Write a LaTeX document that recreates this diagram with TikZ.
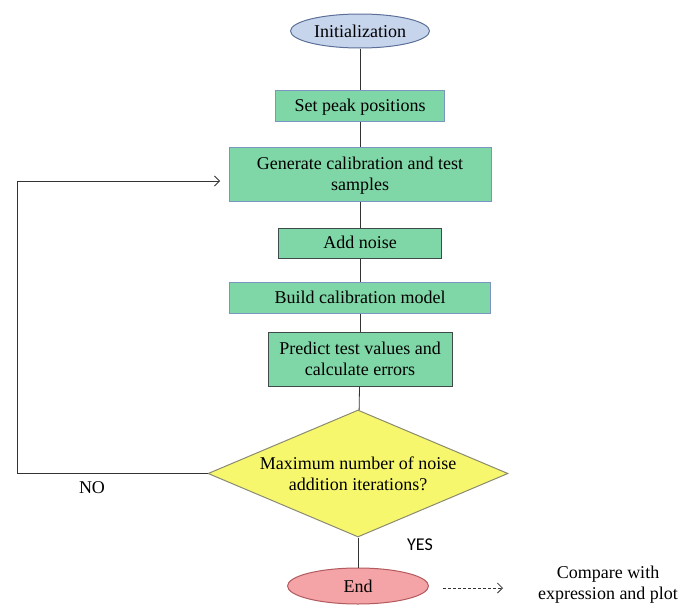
\documentclass[tikz,border=0pt]{standalone}
\usepackage{fontspec}
\setmainfont{Liberation Serif}
\newfontfamily\yesfont{Carlito}
\usetikzlibrary{shapes.geometric,arrows.meta}
\definecolor{boxgreen}{HTML}{7FD6A6}
\definecolor{blueedge}{HTML}{7A95C2}
\definecolor{darkedge}{HTML}{3F4A4A}
\definecolor{initfill}{HTML}{C7D5EC}
\definecolor{initedge}{HTML}{5C6F98}
\definecolor{endfill}{HTML}{F4A3A6}
\definecolor{endedge}{HTML}{B25A5E}
\definecolor{diafill}{HTML}{F7F76E}
\definecolor{diaedge}{HTML}{8A8A70}
\definecolor{linecol}{HTML}{333333}
\tikzset{
  every node/.style={font=\fontsize{18}{21}\selectfont, inner sep=0pt},
  procbox/.style={rectangle, fill=boxgreen, draw=blueedge, line width=1pt, align=center, text depth=1pt},
  procboxdark/.style={procbox, draw=darkedge},
  terminal/.style={ellipse, line width=1pt, inner sep=0pt},
  decision/.style={diamond, aspect=2.36, fill=diafill, draw=diaedge, line width=1pt, align=center, inner sep=0pt},
  conn/.style={draw=linecol, line width=0.8pt},
  loopconn/.style={conn, -{Straight Barb[length=5pt,width=10pt,line width=0.8pt]}},
}
\begin{document}
\begin{tikzpicture}[x=1pt,y=-1pt]
\useasboundingbox (0,0) rectangle (678,605);
\node[terminal, fill=initfill, draw=initedge, minimum width=139pt, minimum height=34pt] (init) at (360,31) {Initialization};
\node[procbox, minimum width=169pt, minimum height=31pt] (peak) at (360,105.5) {Set peak positions};
\node[procbox, minimum width=262pt, minimum height=54pt] (gen) at (360,174) {Generate calibration and test\\samples};
\node[procboxdark, minimum width=163pt, minimum height=30pt] (noise) at (360,243) {Add noise};
\node[procbox, minimum width=261pt, minimum height=31pt] (build) at (360,297.5) {Build calibration model};
\node[procboxdark, minimum width=184pt, minimum height=54pt] (pred) at (360,359) {Predict test values and\\calculate errors};
\node[decision, minimum width=300pt, minimum height=127pt] (dec) at (358,473.5) {Maximum number of noise\\addition iterations?};
\node[terminal, fill=endfill, draw=endedge, minimum width=141pt, minimum height=36pt] (end) at (358,586) {End};
\node (no) at (92,488) {NO};
\node[font=\yesfont\fontsize{18}{21}\selectfont] (yes) at (420,545) {YES};
\node[align=center] (cmp) at (608,585) {Compare with\\expression and plot};

\coordinate (cornerlow) at (17,473.5);
\coordinate (loopend) at (220,181);
\coordinate (dashstart) at (443,588);
\coordinate (dashend) at (503,588);

\draw[conn] (init) -- (peak);
\draw[conn] (peak) -- (gen);
\draw[conn] (gen) -- (noise);
\draw[conn] (noise) -- (build);
\draw[conn] (build) -- (pred);
\draw[conn] (pred) -- (dec);
\draw[conn] (dec) -- (end);
\draw[loopconn] (dec.west) -- (cornerlow) |- (loopend);
\draw[conn, dashed, dash pattern=on 3pt off 2pt, -{Straight Barb[length=5pt,width=10pt,line width=0.8pt]}] (dashstart) -- (dashend);
\end{tikzpicture}
\end{document}
